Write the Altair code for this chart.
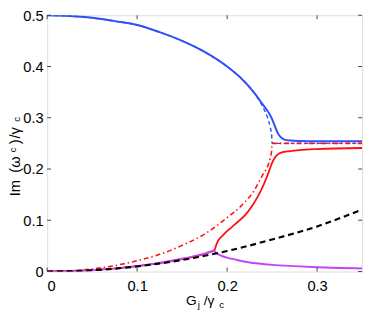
import altair as alt
import pandas as pd

# ---- data ----
blue_x = [0, 0.025, 0.05, 0.075, 0.1, 0.125, 0.15, 0.175, 0.2, 0.215, 0.23, 0.24, 0.245, 0.249,
          0.253, 0.256, 0.259, 0.263, 0.27, 0.28, 0.3, 0.35]
blue_y = [0.5, 0.4985, 0.495, 0.4885, 0.481, 0.467, 0.45, 0.4285, 0.40, 0.378, 0.349, 0.325, 0.313,
          0.301, 0.284, 0.271, 0.263, 0.258, 0.2555, 0.2545, 0.254, 0.254]

bdash_x = [0, 0.025, 0.05, 0.075, 0.1, 0.125, 0.15, 0.175, 0.2, 0.215, 0.23, 0.24, 0.245, 0.248,
           0.2495, 0.25, 0.35]
bdash_y = [0.5, 0.4985, 0.495, 0.4885, 0.481, 0.467, 0.45, 0.4285, 0.40, 0.378, 0.349, 0.32, 0.30,
           0.281, 0.266, 0.25, 0.25]

rdd_x = [0, 0.025, 0.05, 0.075, 0.1, 0.125, 0.15, 0.175, 0.2, 0.215, 0.23, 0.24, 0.245, 0.248,
         0.2495, 0.25, 0.35]
rdd_y = [0, 0.0013, 0.005, 0.0115, 0.021, 0.0335, 0.051, 0.073, 0.105, 0.127, 0.158, 0.19, 0.205,
         0.222, 0.236, 0.25, 0.25]

red_x = [0, 0.05, 0.1, 0.15, 0.175, 0.186, 0.188, 0.19, 0.195, 0.2, 0.205, 0.21, 0.22, 0.227,
         0.235, 0.241, 0.246, 0.25, 0.253, 0.256, 0.26, 0.27, 0.28, 0.3, 0.35]
red_y = [0, 0.0025, 0.0105, 0.024, 0.0345, 0.042, 0.052, 0.06, 0.07, 0.079, 0.086, 0.094, 0.11,
         0.126, 0.149, 0.171, 0.193, 0.212, 0.222, 0.228, 0.232, 0.235, 0.237, 0.239, 0.241]

pur_x = [0, 0.05, 0.1, 0.15, 0.175, 0.185, 0.188, 0.192, 0.2, 0.21, 0.22, 0.235, 0.25, 0.275,
         0.3, 0.325, 0.35]
pur_y = [0, 0.0025, 0.0105, 0.025, 0.035, 0.04, 0.036, 0.032, 0.027, 0.023, 0.019, 0.0155, 0.013,
         0.0105, 0.0085, 0.007, 0.006]

blk_x = [0, 0.05, 0.1, 0.15, 0.2, 0.25, 0.3, 0.35]
blk_y = [0, 0.0025, 0.01, 0.0225, 0.04, 0.0625, 0.088, 0.121]

x_ticks = [0, 0.1, 0.2, 0.3]
y_ticks = [0, 0.1, 0.2, 0.3, 0.4, 0.5]

W, H = 322, 262
FONT = "Liberation Sans"
FRAME = "#444444"

xs = alt.Scale(domain=[0, 0.35], nice=False, zero=False)
ys = alt.Scale(domain=[0, 0.5], nice=False, zero=False)

lab0 = "datum.value == 0 ? '0' : format(datum.value, '.1f')"
x_axis = alt.Axis(values=x_ticks, labelExpr=lab0, ticks=False, tickSize=0, domain=False,
                  grid=False, title=None, labelFont=FONT, labelFontSize=15,
                  labelColor="black", labelPadding=7)
y_axis = alt.Axis(values=y_ticks, labelExpr=lab0, ticks=False, tickSize=0, domain=False,
                  grid=False, title=None, labelFont=FONT, labelFontSize=15,
                  labelColor="black", labelPadding=4)

X = lambda f="x:Q": alt.X(f, scale=xs, axis=x_axis)
Y = lambda f="y:Q": alt.Y(f, scale=ys, axis=y_axis)


def line(xv, yv, color, width, dash=None):
    df = pd.DataFrame({"x": xv, "y": yv})
    kw = dict(color=color, strokeWidth=width, interpolate="monotone", clip=True)
    if dash:
        kw["strokeDash"] = dash
    return alt.Chart(df).mark_line(**kw).encode(x=X(), y=Y())


blue = "#3050f8"
red = "#ff1010"
layers = [
    line(bdash_x, bdash_y, blue, 1.5, [4, 3]),
    line(blue_x, blue_y, blue, 2),
    line(rdd_x, rdd_y, red, 1.6, [5, 3, 1.5, 3]),
    line(red_x, red_y, red, 1.8),
    line(pur_x, pur_y, "#c445f5", 2),
    line(blk_x, blk_y, "black", 2.2, [6, 4]),
]

# inward ticks on all four sides
xt = pd.DataFrame({"x": x_ticks})
yt = pd.DataFrame({"y": y_ticks})
tick_kw = dict(color=FRAME, strokeWidth=1)
layers += [
    alt.Chart(xt).mark_rule(**tick_kw).encode(x=X(), y=alt.value(H), y2=alt.value(H - 4)),
    alt.Chart(xt).mark_rule(**tick_kw).encode(x=X(), y=alt.value(0), y2=alt.value(4)),
    alt.Chart(yt).mark_rule(**tick_kw).encode(y=Y(), x=alt.value(0), x2=alt.value(4)),
    alt.Chart(yt).mark_rule(**tick_kw).encode(y=Y(), x=alt.value(W), x2=alt.value(W - 4)),
]

# axis titles as text pieces (sub/superscripts)
one = pd.DataFrame({"a": [0]})


def txt(s, x, y, size, angle=0):
    return alt.Chart(one).mark_text(text=s, font=FONT, fontSize=size, angle=angle,
                                    align="left", baseline="alphabetic",
                                    color="black").encode(x=alt.value(x), y=alt.value(y))


layers += [
    txt("Im", -28, 185, 15, 270),
    txt("(ω", -28, 161, 15, 270),
    txt("c", -32, 140, 9, 270),
    txt(")", -28, 132, 15, 270),
    txt("/γ", -28, 126, 15, 270),
    txt("c", -27.5, 109, 10, 270),
    txt("G", 142, 296, 14),
    txt("j", 154, 299, 10),
    txt("/γ", 160, 296, 14),
    txt("c", 176, 299, 10),
]

chart = alt.layer(*layers).properties(
    width=W, height=H,
    autosize=alt.AutoSizeParams(type="none"),
    padding={"left": 40, "top": 4, "right": 4, "bottom": 39},
).configure_view(stroke=FRAME, strokeWidth=1.2).configure(background="white")

chart.save("out.html", embed_options={"renderer": "svg", "actions": False})
